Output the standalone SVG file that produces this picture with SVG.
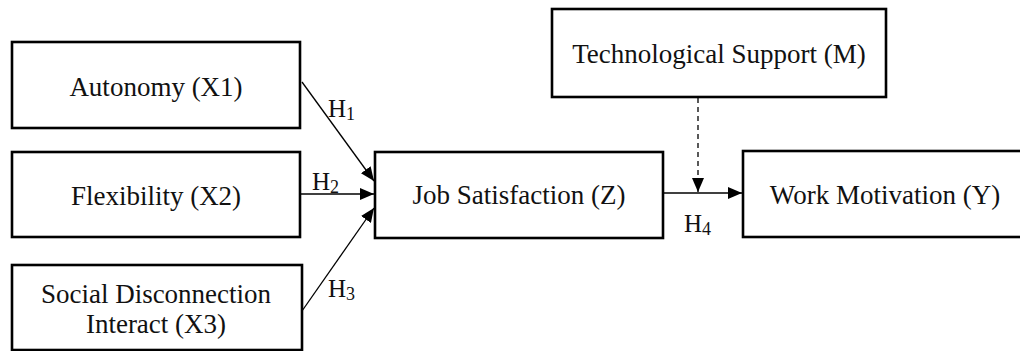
<svg xmlns="http://www.w3.org/2000/svg" width="1020" height="351" viewBox="0 0 1020 351">
<style>
.box{fill:#fff;stroke:#000;stroke-width:2.6}
.t{font-family:"Liberation Serif","Times New Roman",serif;font-size:27px;fill:#111;text-anchor:middle}
.h{font-family:"Liberation Serif","Times New Roman",serif;font-size:25px;fill:#111}
.s{font-size:18px}
.ln{stroke:#000;stroke-width:1.3;fill:none}
</style>
<defs>
<marker id="ah" viewBox="0 0 14 12" refX="14" refY="6" markerWidth="14" markerHeight="12" markerUnits="userSpaceOnUse" orient="auto">
<path d="M0,0 L14,6 L0,12 Z" fill="#000"/>
</marker>
</defs>
<g id="connectors">
<line class="ln" x1="302" y1="82" x2="374" y2="181" marker-end="url(#ah)"/>
<line class="ln" x1="300" y1="194" x2="374" y2="194" marker-end="url(#ah)"/>
<line class="ln" x1="302" y1="311" x2="374" y2="208" marker-end="url(#ah)"/>
<line class="ln" x1="664" y1="193" x2="742" y2="193" marker-end="url(#ah)"/>
<line class="ln" x1="698" y1="98" x2="698" y2="192" stroke-dasharray="5,4" marker-end="url(#ah)"/>
<text class="h" x="328" y="117">H<tspan class="s" dy="3">1</tspan></text>
<text class="h" x="312" y="190">H<tspan class="s" dy="3">2</tspan></text>
<text class="h" x="328" y="297">H<tspan class="s" dy="3">3</tspan></text>
<text class="h" x="684" y="232">H<tspan class="s" dy="3">4</tspan></text>
</g>
<g id="x1">
<rect class="box" x="12" y="42" width="288" height="86"/>
<text class="t" x="156" y="96">Autonomy (X1)</text>
</g>
<g id="x2">
<rect class="box" x="12" y="152" width="288" height="85"/>
<text class="t" x="156" y="205">Flexibility (X2)</text>
</g>
<g id="x3">
<rect class="box" x="12" y="265" width="290" height="85"/>
<text class="t" x="156" y="303">Social Disconnection</text>
<text class="t" x="156" y="333">Interact (X3)</text>
</g>
<g id="z">
<rect class="box" x="375" y="152" width="288" height="86"/>
<text class="t" x="519" y="204">Job Satisfaction (Z)</text>
</g>
<g id="m">
<rect class="box" x="552" y="9" width="334" height="88"/>
<text class="t" x="719" y="63">Technological Support (M)</text>
</g>
<g id="y">
<rect class="box" x="743" y="151" width="290" height="86"/>
<text class="t" x="885" y="204">Work Motivation (Y)</text>
</g>
</svg>
